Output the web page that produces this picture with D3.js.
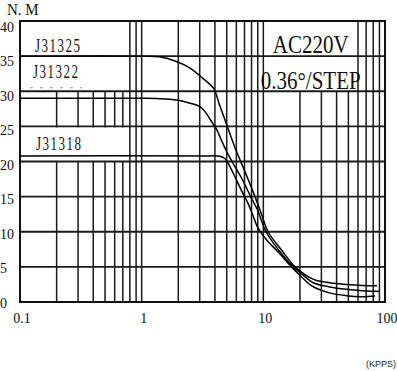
<!DOCTYPE html>
<html><head><meta charset="utf-8">
<script src="https://cdn.jsdelivr.net/npm/d3@7"></script>
<style>body{margin:0;background:#fff}svg{display:block;background:#fff}</style>
</head><body><svg id="c" width="397" height="371"></svg>
<script>
// ---- data ----
const xTickLabels = [0.1, 1, 10, 100];
const yTickLabels = [0, 5, 10, 15, 20, 25, 30, 35, 40];
const seriesNames = ["J31325", "J31322", "J31318"];
const speedJ31325 = [0.1, 1.0, 1.4, 1.95, 2.5, 3.2, 3.9, 4.32, 4.84, 5.32, 5.96, 6.55, 7.52, 8.54, 9.66, 10.94, 14.1, 18.2, 22, 27, 35, 48, 65, 86];
const torqueJ31325 = [35, 35, 34.9, 34.2, 33.3, 31.8, 30.4, 28.3, 25.9, 23.9, 21.6, 19.9, 17.4, 15.0, 12.5, 10.0, 7.4, 5.0, 3.9, 3.1, 2.75, 2.5, 2.35, 2.3];
const speedJ31322 = [0.1, 1.0, 1.4, 1.94, 2.5, 3.02, 3.32, 3.71, 4.12, 4.53, 5.0, 5.74, 6.74, 7.92, 8.96, 10.52, 13.5, 17.6, 21, 26, 35, 48, 65, 91];
const torqueJ31322 = [29, 29, 28.95, 28.75, 28.3, 27.8, 27.1, 25.8, 24.6, 23.0, 21.4, 19.5, 17.4, 14.9, 13.1, 10.0, 7.3, 5.0, 3.9, 2.7, 2.15, 1.8, 1.6, 1.5];
const speedJ31318 = [0.1, 3.5, 4.4, 4.85, 5.3, 5.85, 6.6, 7.5, 8.3, 9.0, 10.7, 13.6, 17.0, 20, 25, 35, 48, 65, 83];
const torqueJ31318 = [20.8, 20.8, 20.75, 20.4, 19.3, 17.8, 15.9, 14.0, 12.1, 10.6, 8.8, 6.9, 5.0, 3.8, 2.3, 1.3, 0.9, 0.75, 0.85];
const yUnit = "N. M";
const xUnit = "(KPPS)";
const noteLines = ["AC220V", "0.36°/STEP"];

// ---- scales ----
const svg = d3.select("#c");
const x = d3.scaleLog().domain([0.1, 100]).range([20, 385]);
const y = d3.scaleLinear().domain([0, 40]).range([302, 21]);
const yLab = d3.scaleLinear().domain([0, 40]).range([303, 27]);
const serif = "'Liberation Serif','Times New Roman',serif";

// vertical grid
svg.append("g").selectAll("line").data(x.ticks()).join("line")
  .attr("x1", d => x(d)).attr("x2", d => x(d))
  .attr("y1", y(40)).attr("y2", y(0))
  .attr("stroke", "#1a1a1a").attr("stroke-width", 1.5);

// blank label areas
const blanks = [[0.1, 0.75, 40, 30], [0.1, 0.75, 25, 20], [12, 55, 40, 30]];
svg.append("g").selectAll("rect").data(blanks).join("rect")
  .attr("x", d => x(d[0]) + 1).attr("width", d => x(d[1]) - x(d[0]) - 1)
  .attr("y", d => y(d[2]) + 1).attr("height", d => y(d[3]) - y(d[2]) - 1)
  .attr("fill", "#fff");

// horizontal grid
svg.append("g").selectAll("line").data(yTickLabels).join("line")
  .attr("x1", x(0.1)).attr("x2", x(100))
  .attr("y1", d => y(d)).attr("y2", d => y(d))
  .attr("stroke", "#1a1a1a").attr("stroke-width", 1.8);

// border
svg.append("rect").attr("x", x(0.1)).attr("y", y(40))
  .attr("width", x(100) - x(0.1)).attr("height", y(0) - y(40))
  .attr("fill", "none").attr("stroke", "#111").attr("stroke-width", 2);

// curves
const series = [
  [speedJ31325, torqueJ31325],
  [speedJ31322, torqueJ31322],
  [speedJ31318, torqueJ31318]
];
const line = d3.line().x(d => x(d[0])).y(d => y(d[1])).curve(d3.curveCatmullRom.alpha(0.5));
svg.append("g").selectAll("path").data(series).join("path")
  .attr("d", s => line(s[0].map((v, i) => [v, s[1][i]])))
  .attr("fill", "none").attr("stroke", "#000").attr("stroke-width", 1.5);

// faint dashed mark under J31322
svg.append("line").attr("x1", x(0.1) + 10).attr("x2", x(0.1) + 62)
  .attr("y1", y(30) - 3.5).attr("y2", y(30) - 3.5)
  .attr("stroke", "#999").attr("stroke-width", 1).attr("stroke-dasharray", "3,7");

// series labels
const labelLevels = [35, 29, 20.8];
const labelDx = [15, 13, 16];
const labelDy = [-4.5, -20, -5.5];
svg.append("g").selectAll("text").data(seriesNames).join("text")
  .attr("transform", (d, i) => `translate(${x(0.1) + labelDx[i]},${y(labelLevels[i]) + labelDy[i]}) scale(1,1.4)`)
  .attr("font-family", serif).attr("font-size", 13).attr("letter-spacing", 1.5)
  .attr("fill", "#111").text(d => d);

// note box text
svg.append("g").selectAll("text").data(noteLines).join("text")
  .attr("transform", (d, i) => `translate(${x(24.5)},${y(40 - 5 * i) + 31.5 + i * 1}) scale(1,1.15)`)
  .attr("text-anchor", "middle")
  .attr("font-family", serif).attr("font-size", 21)
  .attr("fill", "#111").text(d => d);

// y tick labels
svg.append("g").selectAll("text").data(yTickLabels).join("text")
  .attr("x", 0).attr("y", d => yLab(d)).attr("dy", "0.35em")
  .attr("font-family", serif).attr("font-size", 14).attr("fill", "#111")
  .text(d => d);

// x tick labels
svg.append("g").selectAll("text").data(xTickLabels).join("text")
  .attr("x", d => x(d) + 2).attr("y", 318).attr("dy", "0.35em")
  .attr("text-anchor", "middle")
  .attr("font-family", serif).attr("font-size", 14).attr("fill", "#111")
  .text(d => d);

// units
svg.append("text").attr("transform", "translate(7,15) scale(1,1.15)")
  .attr("font-family", serif).attr("font-size", 15).attr("fill", "#111").text(yUnit);
svg.append("text").attr("x", 396).attr("y", 367).attr("text-anchor", "end")
  .attr("font-family", "'Liberation Sans',Arial,sans-serif").attr("font-size", 9)
  .attr("fill", "#222").text(xUnit);
</script></body></html>
